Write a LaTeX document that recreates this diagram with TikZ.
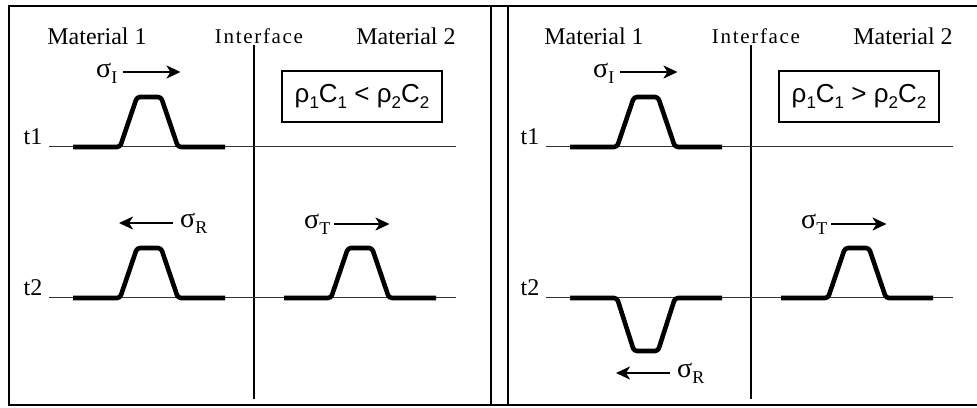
\documentclass[tikz,border=0pt]{standalone}
\usepackage{fontspec}
\setmainfont{Liberation Serif}
\setsansfont{Liberation Sans}
\newfontfamily\spacedfont{Liberation Serif}[LetterSpace=8]
\usetikzlibrary{arrows.meta}
\newcommand{\lowsub}[3][16]{#2\raisebox{-0.45ex}{\fontsize{#1}{#1}\selectfont #3}}
\newcommand{\sigsub}[1]{{\fontsize{28}{28}\selectfont σ}\raisebox{-0.6ex}{\fontsize{18}{18}\selectfont #1}}

\begin{document}
\begin{tikzpicture}[x=1pt, y=-1pt,
  font=\fontsize{24}{27}\selectfont,
  >={Stealth[length=14pt,width=13pt,inset=4pt]},
  lbl/.style={inner sep=0pt, anchor=base},
  sig/.style={inner sep=0pt, anchor=base west},
  axis/.style={draw=black!80, line width=0.8pt},
  wave/.style={line width=4.6pt, line join=round, rounded corners=3pt},
  arr/.style={->, line width=2.3pt},
  ratio/.style={draw, line width=2.2pt, minimum width=160pt, minimum height=51pt,
                inner sep=0pt, font=\sffamily\fontsize{26}{28}\selectfont}
]
\useasboundingbox (0,0) rectangle (977,407);
% ---------------- frame
\draw[line width=2pt] (980,6) -- (9,6) -- (9,405) -- (980,405);
\draw[line width=1.6pt] (491,6) -- (491,405) (508,6) -- (508,405);
% ---------------- two panels
\foreach \dx/\cmp/\hh/\ry/\p in {0/</-50/227/L, 497/>/53/377/R} {
\begin{scope}[xshift=\dx]
  \node[lbl] (ma\p) at (97,44) {Material 1};
  \node[lbl] (if\p) at (259,43) {\fontsize{21}{23}\spacedfont Interface};
  \node[lbl] (mb\p) at (406,44) {Material 2};
  \node[lbl] (ta\p) at (33,144) {t1};
  \node[lbl] (tb\p) at (33,295) {t2};
  \draw[line width=1.6pt] (254,45) -- (254,399);
  \draw[axis] (49,146) -- (456,146);
  \draw[axis] (49,297) -- (456,297);
  \node[ratio] (rc\p) at (362,96.5)
    {\lowsub[17]{ρ}{1}\lowsub[17]{C}{1} \cmp{} \lowsub[17]{ρ}{2}\lowsub[17]{C}{2}};
  % incident pulse at t1
  \draw[wave] (73,147) -- (120,147) -- (137,97) -- (161,97) -- (178,147) -- (225,147);
  \node[sig] (sI\p) at (96,77) {\sigsub{I}};
  \draw[arr] ([shift={(6,-5)}]sI\p.base east) -- ++(57,0);
  % reflected pulse at t2
  \draw[wave] (73,298) -- (120,298) -- (137,{298+\hh}) -- (161,{298+\hh}) -- (178,298) -- (225,298);
  \node[sig] (sR\p) at (180,\ry) {\sigsub{R}};
  \draw[arr] ([shift={(-7,-4)}]sR\p.base west) -- ++(-54,0);
  % transmitted pulse at t2
  \draw[wave] (284,298) -- (331,298) -- (348,248) -- (372,248) -- (389,298) -- (436,298);
  \node[sig] (sT\p) at (304,228) {\sigsub{T}};
  \draw[arr] ([shift={(4,-4)}]sT\p.base east) -- ++(55,0);
\end{scope}
}
\end{tikzpicture}
\end{document}
